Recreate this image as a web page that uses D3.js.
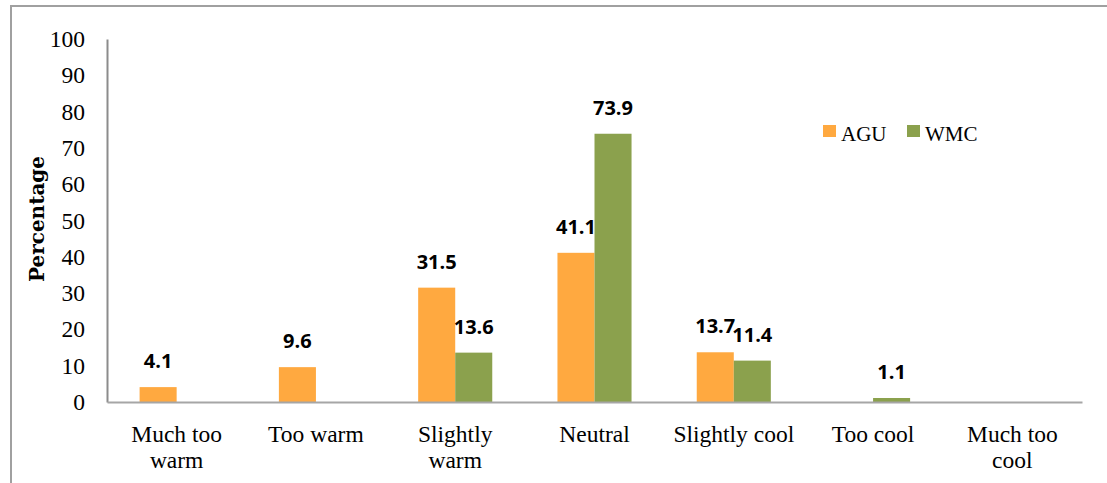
<!DOCTYPE html>
<html>
<head>
<meta charset="utf-8">
<script src="https://cdn.jsdelivr.net/npm/d3@7"></script>
<style>
html,body{margin:0;padding:0;background:#fff;}
svg{display:block;}
</style>
</head>
<body>
<svg id="chart" width="1107" height="483"></svg>
<script>
const categories = [["Much too","warm"],["Too warm"],["Slightly","warm"],["Neutral"],["Slightly cool"],["Too cool"],["Much too","cool"]];
const seriesNames = ["AGU","WMC"];
const aguValues = [4.1, 9.6, 31.5, 41.1, 13.7, null, null];
const wmcValues = [null, null, 13.6, 73.9, 11.4, 1.1, null];
const yTicks = [0,10,20,30,40,50,60,70,80,90,100];
const colors = {AGU:"#FFA940", WMC:"#8BA14D"};

const svg = d3.select("#chart");
const plotLeft = 107, plotRight = 1082, plotTop = 39, plotBottom = 402;
const serif = "Liberation Serif";

// outer border
svg.append("path").attr("d","M11,483 L11,6 L1107,6").attr("fill","none").attr("stroke","#a0a0a0").attr("stroke-width",2);

const catKeys = categories.map((c,i)=>i);
const x0 = d3.scaleBand().domain(catKeys).range([plotLeft,plotRight]).padding(0);
const x1 = d3.scaleBand().domain(seriesNames).range([0,x0.bandwidth()]).paddingInner(0).paddingOuter(0.88);
const y = d3.scaleLinear().domain([0,100]).range([plotBottom,plotTop]);

// y axis
const yAxis = svg.append("g").attr("transform",`translate(${plotLeft},0)`)
  .call(d3.axisLeft(y).tickValues(yTicks).tickSize(0).tickPadding(22).tickFormat(d3.format("d")));
yAxis.select(".domain").attr("stroke","#8c8c8c").attr("stroke-width",2);
yAxis.selectAll("text").attr("font-family",serif).attr("font-size",23.5).attr("fill","#000");

// bars
const rows = [];
catKeys.forEach(i=>{
  rows.push({cat:i, s:"AGU", v:aguValues[i]});
  rows.push({cat:i, s:"WMC", v:wmcValues[i]});
});
const valid = rows.filter(r=>r.v!==null);
svg.append("g").selectAll("rect").data(valid).join("rect")
  .attr("x",d=>x0(d.cat)+x1(d.s))
  .attr("width",x1.bandwidth())
  .attr("y",d=>y(d.v))
  .attr("height",d=>y(0)-y(d.v))
  .attr("fill",d=>colors[d.s]);

// labels
svg.append("g").selectAll("text").data(valid).join("text")
  .attr("x",d=>x0(d.cat)+x1(d.s)+x1.bandwidth()/2)
  .attr("y",d=>y(d.v)-19)
  .attr("text-anchor","middle")
  .attr("font-family","Open Sans")
  .attr("font-weight","bold")
  .attr("font-size",20)
  .attr("fill","#000")
  .text(d=>d3.format(".1f")(d.v));

// x axis
const xAxis = svg.append("g").attr("transform",`translate(0,${plotBottom})`)
  .call(d3.axisBottom(x0).tickSize(0).tickFormat(""));
xAxis.select(".domain").attr("stroke","#a6a6a6").attr("stroke-width",2);
const catLabels = svg.append("g");
categories.forEach((lines,i)=>{
  const cx = x0(i)+x0.bandwidth()/2;
  const t = catLabels.append("text")
    .attr("x",cx)
    .attr("y",442)
    .attr("text-anchor","middle")
    .attr("font-family",serif)
    .attr("font-size",23.5)
    .attr("fill","#000");
  lines.forEach((ln,j)=>{
    t.append("tspan").attr("x",cx).attr("dy",j===0?0:25.5).text(ln);
  });
});

// y title
svg.append("text")
  .attr("transform","translate(44,219) rotate(-90)")
  .attr("text-anchor","middle")
  .attr("font-family","DejaVu Serif")
  .attr("font-weight","bold")
  .attr("font-size",20)
  .attr("fill","#000")
  .text("Percentage");

// legend
const legendX = [823, 907];
const lg = svg.append("g");
seriesNames.forEach((s,i)=>{
  lg.append("rect").attr("x",legendX[i]).attr("y",125).attr("width",13).attr("height",12).attr("fill",colors[s]);
  lg.append("text").attr("x",legendX[i]+18).attr("y",141)
    .attr("font-family",serif).attr("font-size",21).attr("fill","#000").text(s);
});
</script>
</body>
</html>
